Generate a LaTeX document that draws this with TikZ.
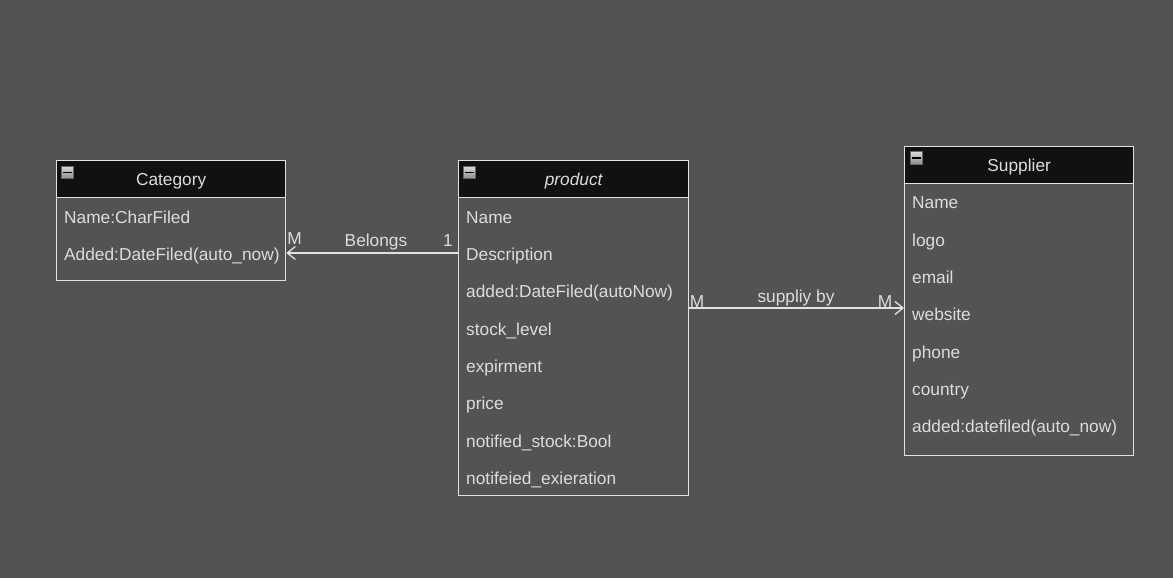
\documentclass[tikz,border=0pt]{standalone}
\usepackage{fontspec}
\setmainfont{Liberation Sans}
\usetikzlibrary{arrows.meta}
\definecolor{bg}{HTML}{535353}
\definecolor{hdr}{HTML}{111111}
\definecolor{fg}{HTML}{DCDCDC}
\definecolor{ln}{HTML}{E2E2E2}
\begin{document}
\begin{tikzpicture}[x=1pt,y=-1pt,
  font=\fontsize{17.3}{20}\selectfont,
  box/.style={draw=ln,line width=1.3pt,fill=bg,anchor=north west,inner sep=0pt},
  hdrbox/.style={draw=ln,line width=1.3pt,fill=hdr,anchor=north west,inner sep=0pt,
    minimum height=37,text=fg},
  hdrtxt/.style={inner sep=0pt,text=fg,anchor=base,yshift=-6pt},
  row/.style={anchor=base west,inner sep=0pt,text=fg,yshift=-6pt},
  lbl/.style={inner sep=0pt,text=fg,anchor=base,yshift=-6pt},
  icon/.style={draw=black!60,line width=0.6pt,top color=white!85!black,bottom color=black!45,
    minimum size=12.5,inner sep=0pt,
    path picture={\draw[black,line width=1.7pt]
      ([xshift=2.2pt]path picture bounding box.west) -- ([xshift=-2.2pt]path picture bounding box.east);}},
  conn/.style={draw=ln,line width=1.3pt,-{Straight Barb[length=8pt,width=13pt,line width=1.3pt]}}]
\useasboundingbox[fill=bg] (0,0) rectangle (1173,578);

% Category
\node[box,minimum width=229,minimum height=120] (cat) at (56,160) {};
\node[hdrbox,minimum width=229] (cath) at (56,160) {};
\node[hdrtxt] (catt) at (cath.center) {Category};
\node[icon] (cati) at (67.5,172.5) {};
\node[row] (c1) at (64,217) {Name:CharFiled};
\node[row] (c2) at (64,254) {Added:DateFiled(auto\_now)};

% product
\node[box,minimum width=230,minimum height=335] (prod) at (458,160) {};
\node[hdrbox,minimum width=230] (prodh) at (458,160) {};
\node[hdrtxt] (prodt) at (prodh.center) {\itshape product};
\node[icon] (prodi) at (469.5,172.5) {};
\node[row] (p1) at (466,217) {Name};
\node[row] (p2) at (466,254) {Description};
\node[row] (p3) at (466,291.5) {added:DateFiled(autoNow)};
\node[row] (p4) at (466,329) {stock\_level};
\node[row] (p5) at (466,366) {expirment};
\node[row] (p6) at (466,403.5) {price};
\node[row] (p7) at (466,441) {notified\_stock:Bool};
\node[row] (p8) at (466,478) {notifeied\_exieration};

% Supplier
\node[box,minimum width=229,minimum height=309] (sup) at (904,146) {};
\node[hdrbox,minimum width=229] (suph) at (904,146) {};
\node[hdrtxt] (supt) at (suph.center) {Supplier};
\node[icon] (supi) at (916.5,158) {};
\node[row] (s1) at (912,202) {Name};
\node[row] (s2) at (912,240) {logo};
\node[row] (s3) at (912,277) {email};
\node[row] (s4) at (912,314.5) {website};
\node[row] (s5) at (912,352) {phone};
\node[row] (s6) at (912,389) {country};
\node[row] (s7) at (912,426.5) {added:datefiled(auto\_now)};

% connectors
\coordinate (b1) at ([yshift=-93pt]prod.north west);
\draw[conn] (b1) -- (cat.east |- b1);
\node[lbl] (bm) at (294.5,238) {M};
\node[lbl] (bl) at (376,240) {Belongs};
\node[lbl] (b1l) at (448,240) {1};

\coordinate (s0) at ([yshift=-148pt]prod.north east);
\draw[conn] (s0) -- (sup.west |- s0);
\node[lbl] (sm1) at (697,301) {M};
\node[lbl] (sl) at (796,296) {suppliy by};
\node[lbl] (sm2) at (885,301) {M};
\end{tikzpicture}
\end{document}
